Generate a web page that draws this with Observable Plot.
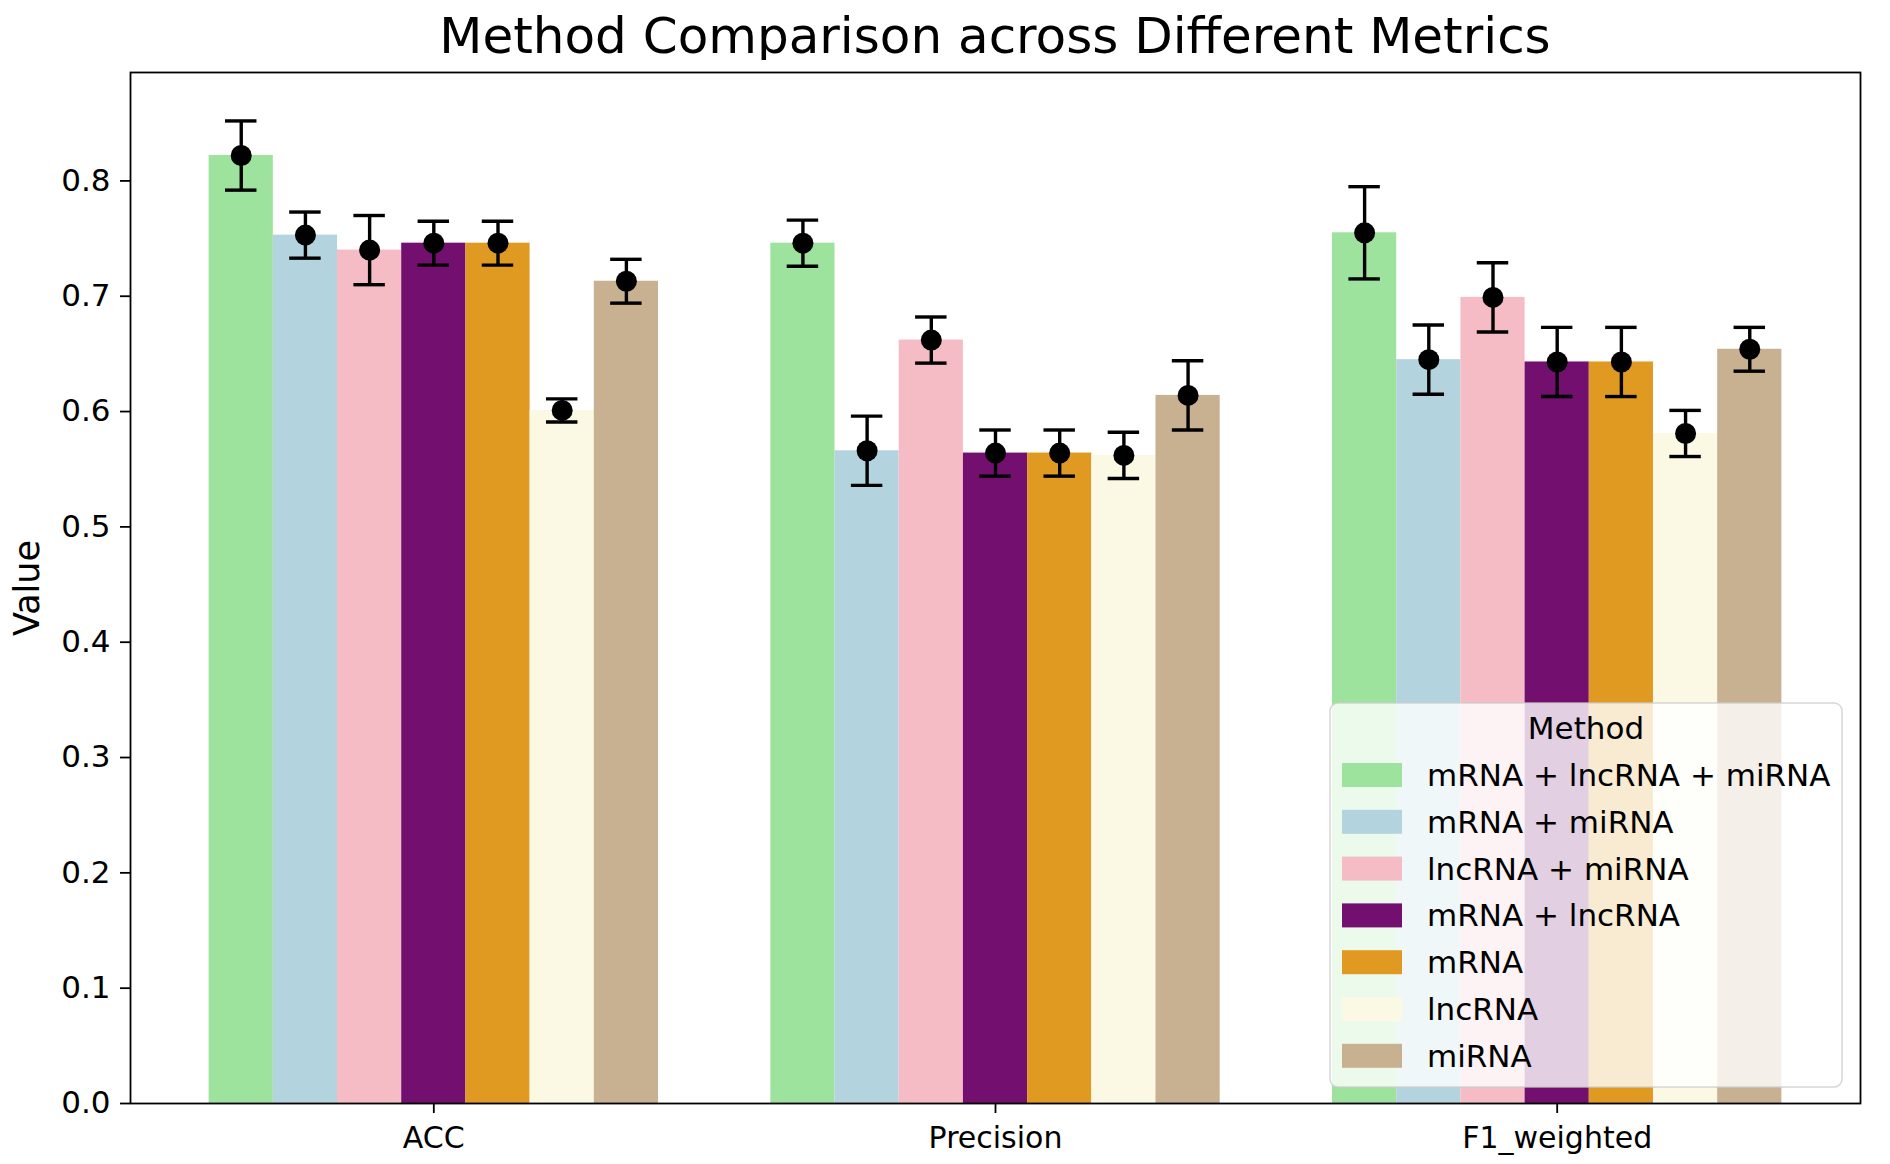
<!DOCTYPE html>
<html>
<head>
<meta charset="utf-8">
<script src="https://cdn.jsdelivr.net/npm/d3@7"></script>
<script src="https://cdn.jsdelivr.net/npm/@observablehq/plot@0.6"></script>
<style>
  html, body { margin: 0; padding: 0; background: white; }
  #title { position: absolute; left: 130px; width: 1730px; top: 11px; text-align: center;
           font-family: "DejaVu Sans", sans-serif; font-size: 50px; line-height: 1; color: black; }
  #chart { position: absolute; left: 0; top: 60px; }
</style>
</head>
<body>
<div id="title">Method Comparison across Different Metrics</div>
<div id="chart"></div>
<script>
// ---- data ----
const metrics = ["ACC", "Precision", "F1_weighted"];
const methods = ["mRNA + lncRNA + miRNA", "mRNA + miRNA", "lncRNA + miRNA", "mRNA + lncRNA", "mRNA", "lncRNA", "miRNA"];
const colors = ["#9de39d", "#b3d4df", "#f6bcc6", "#720f6f", "#e09a21", "#fbf9e4", "#c8b190"];
const accValues = [0.822, 0.753, 0.740, 0.746, 0.746, 0.601, 0.713];
const accErrors = [0.030, 0.020, 0.030, 0.019, 0.019, 0.010, 0.019];
const precisionValues = [0.746, 0.566, 0.662, 0.564, 0.564, 0.562, 0.614];
const precisionErrors = [0.020, 0.030, 0.020, 0.020, 0.020, 0.020, 0.030];
const f1Values = [0.755, 0.645, 0.699, 0.643, 0.643, 0.581, 0.654];
const f1Errors = [0.040, 0.030, 0.030, 0.030, 0.030, 0.020, 0.019];
const yTicks = [0.0, 0.1, 0.2, 0.3, 0.4, 0.5, 0.6, 0.7, 0.8];

// ---- table ----
const valueSets = [accValues, precisionValues, f1Values];
const errorSets = [accErrors, precisionErrors, f1Errors];
const barW = 0.8 / methods.length;
const capHalf = 0.028;
const rows = [];
metrics.forEach((metric, gi) => {
  methods.forEach((method, mi) => {
    const pos = gi + (mi - (methods.length - 1) / 2) * barW;
    rows.push({metric, method, pos, value: valueSets[gi][mi], err: errorSets[gi][mi]});
  });
});

const W = 1890, H = 1104;
const mT = 12, mB = 61, mL = 130, mR = 30;

const chart = Plot.plot({
  width: W, height: H,
  marginTop: mT, marginBottom: mB, marginLeft: mL, marginRight: mR,
  x: {domain: [-0.54, 2.54], axis: null},
  y: {domain: [0, 0.894], axis: null},
  color: {domain: methods, range: colors},
  style: {fontFamily: "DejaVu Sans", fontSize: "30px", background: "white", color: "black", overflow: "visible"},
  marks: [
    Plot.rectY(rows, {x1: d => d.pos - barW / 2, x2: d => d.pos + barW / 2, y1: 0, y2: "value", fill: "method"}),
    Plot.ruleX(rows, {x: "pos", y1: d => d.value - d.err, y2: d => d.value + d.err, stroke: "black", strokeWidth: 3.4}),
    Plot.ruleY(rows, {y: d => d.value - d.err, x1: d => d.pos - capHalf, x2: d => d.pos + capHalf, stroke: "black", strokeWidth: 3.4}),
    Plot.ruleY(rows, {y: d => d.value + d.err, x1: d => d.pos - capHalf, x2: d => d.pos + capHalf, stroke: "black", strokeWidth: 3.4}),
    Plot.dot(rows, {x: "pos", y: "value", r: 10.5, fill: "black"}),
    Plot.axisY({ticks: yTicks, tickFormat: d3.format(".1f"), tickSize: 10, tickPadding: 10, fontSize: 31, label: null, strokeWidth: 1.8}),
    Plot.axisX({ticks: [0, 1, 2], tickFormat: i => metrics[i], tickSize: 10, tickPadding: 13, fontSize: 30, label: null, strokeWidth: 1.8}),
    Plot.frame({stroke: "black", strokeWidth: 1.8}),
    Plot.text(["Value"], {text: d => d, frameAnchor: "left", dx: -103, rotate: -90, fontSize: 35, textAnchor: "middle", lineAnchor: "middle"})
  ]
});
document.getElementById("chart").appendChild(chart);

// ---- legend (lower right, inside the axes, semi-transparent) ----
const svg = d3.select(chart);
const boxW = 512, boxH = 384, rightPad = 18, bottomPad = 16;
const boxX = W - mR - rightPad - boxW;
const boxY = H - mB - bottomPad - boxH;
const lg = svg.append("g").attr("font-family", "DejaVu Sans").attr("font-size", 31).attr("fill", "black");
lg.append("rect").attr("x", boxX).attr("y", boxY).attr("width", boxW).attr("height", boxH)
  .attr("rx", 8).attr("fill", "white").attr("fill-opacity", 0.8)
  .attr("stroke", "#cccccc").attr("stroke-opacity", 0.8).attr("stroke-width", 1.5);
lg.append("text").attr("x", boxX + boxW / 2).attr("y", boxY + 25).attr("text-anchor", "middle")
  .attr("dominant-baseline", "central").text("Method");
const step = 46.8;
methods.forEach((m, i) => {
  const cy = boxY + 72 + i * step;
  lg.append("rect").attr("x", boxX + 12).attr("y", cy - 12).attr("width", 60).attr("height", 24).attr("fill", colors[i]);
  lg.append("text").attr("x", boxX + 97).attr("y", cy).attr("text-anchor", "start")
    .attr("dominant-baseline", "central").text(m);
});
</script>
</body>
</html>
